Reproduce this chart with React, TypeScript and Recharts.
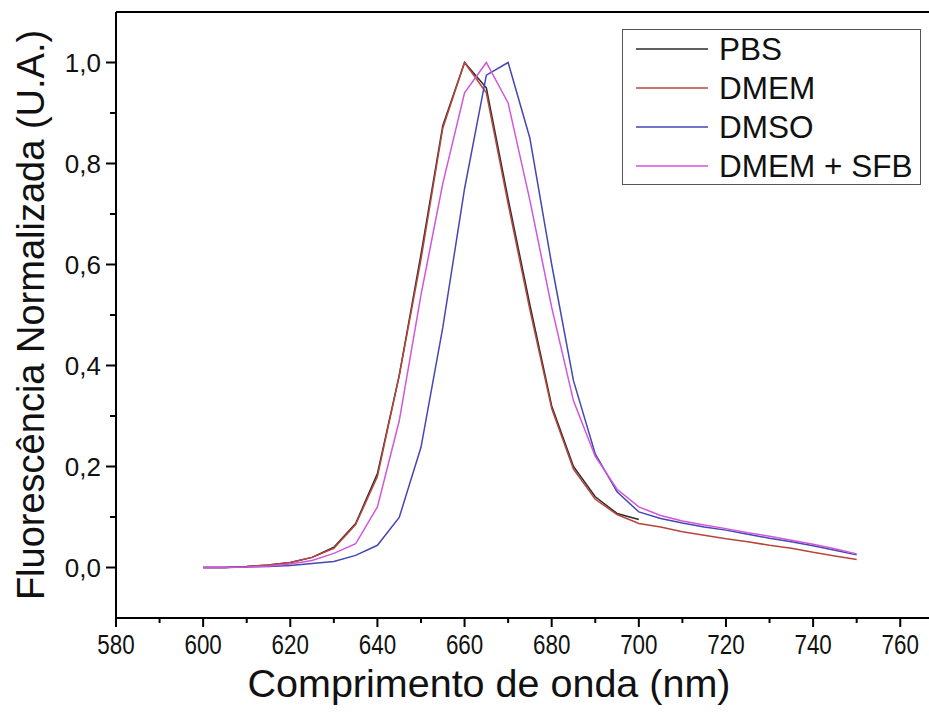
import React from 'react';
import { LineChart, Line, XAxis, YAxis, ReferenceLine } from 'recharts';

// wavelength grid (nm), sampled every 5 nm
const wavelengths = [
  600, 605, 610, 615, 620, 625, 630, 635, 640, 645, 650, 655, 660, 665, 670, 675,
  680, 685, 690, 695, 700, 705, 710, 715, 720, 725, 730, 735, 740, 745, 750,
];

// PBS was only measured up to 700 nm
const pbs = [
  0, 0, 0.002, 0.005, 0.01, 0.02, 0.04, 0.087, 0.186, 0.38, 0.62, 0.875, 1.0, 0.95, 0.73, 0.52,
  0.32, 0.2, 0.14, 0.107, 0.095,
];
const dmem = [
  0, 0, 0.002, 0.005, 0.01, 0.02, 0.038, 0.085, 0.18, 0.38, 0.61, 0.87, 1.0, 0.94, 0.72, 0.51,
  0.315, 0.195, 0.135, 0.105, 0.087, 0.08, 0.071, 0.064, 0.057, 0.051, 0.044, 0.038, 0.03, 0.023, 0.016,
];
const dmso = [
  0, 0, 0.001, 0.002, 0.004, 0.008, 0.012, 0.024, 0.044, 0.099, 0.238, 0.475, 0.75, 0.975, 1.0, 0.85,
  0.6, 0.37, 0.225, 0.15, 0.11, 0.097, 0.088, 0.08, 0.074, 0.066, 0.058, 0.051, 0.043, 0.034, 0.025,
];
const dmemSfb = [
  0, 0, 0.001, 0.003, 0.007, 0.014, 0.028, 0.047, 0.12, 0.29, 0.54, 0.76, 0.94, 1.0, 0.92, 0.727,
  0.515, 0.33, 0.22, 0.155, 0.12, 0.103, 0.092, 0.084, 0.077, 0.069, 0.062, 0.054, 0.046, 0.037, 0.027,
];

const xTicks = [580, 590, 600, 610, 620, 630, 640, 650, 660, 670, 680, 690, 700, 710, 720, 730, 740, 750, 760];
const yTicks = [0, 0.1, 0.2, 0.3, 0.4, 0.5, 0.6, 0.7, 0.8, 0.9, 1.0];

const series = [
  { key: 'pbs', name: 'PBS', color: '#2b2b2b' },
  { key: 'dmem', name: 'DMEM', color: '#b8453a' },
  { key: 'dmso', name: 'DMSO', color: '#4646b4' },
  { key: 'dmemSfb', name: 'DMEM + SFB', color: '#d256dc' },
];

const data = wavelengths.map((w, i) => ({
  w,
  pbs: pbs[i],
  dmem: dmem[i],
  dmso: dmso[i],
  dmemSfb: dmemSfb[i],
}));

const FONT = '"Liberation Sans", Arial, sans-serif';

function XTick(props: any) {
  const { x, y, payload } = props;
  const major = payload.value % 20 === 0;
  return (
    <g>
      <line x1={x} x2={x} y1={y} y2={y + (major ? 9 : 5)} stroke="#000" strokeWidth={2} />
      {major && (
        // the original tick labels are a bit condensed
        <text
          transform={`translate(${x},${y + 36}) scale(0.8,1)`}
          textAnchor="middle"
          fontFamily={FONT}
          fontSize={28}
          fill="#111"
        >
          {payload.value}
        </text>
      )}
    </g>
  );
}

function YTick(props: any) {
  const { x, y, payload } = props;
  const v = payload.value;
  const major = Math.round(v * 10) % 2 === 0;
  return (
    <g>
      <line x1={x - (major ? 10 : 6)} x2={x} y1={y} y2={y} stroke="#000" strokeWidth={2} />
      {major && (
        <text
          x={x - 15}
          y={y + 9}
          textAnchor="end"
          fontFamily={FONT}
          fontSize={26}
          fill="#111"
        >
          {v.toFixed(1).replace('.', ',')}
        </text>
      )}
    </g>
  );
}

function Legendbox() {
  return (
    <div
      style={{
        position: 'absolute',
        left: 622,
        top: 29,
        width: 299,
        height: 156,
        border: '1.5px solid #555',
        background: '#fff',
        boxSizing: 'border-box',
        fontFamily: FONT,
      }}
    >
      {series.map((s, i) => (
        <div
          key={s.key}
          style={{
            position: 'absolute',
            left: 13,
            top: 2 + i * 39,
            height: 34,
            display: 'flex',
            alignItems: 'center',
          }}
        >
          <svg width={72} height={4} style={{ marginRight: 11 }}>
            <line x1={0} x2={72} y1={2} y2={2} stroke={s.color} strokeWidth={1.5} />
          </svg>
          <span style={{ fontSize: 31.5, color: '#111', whiteSpace: 'nowrap' }}>{s.name}</span>
        </div>
      ))}
    </div>
  );
}

export default function App() {
  return (
    <div style={{ position: 'absolute', left: 0, top: 0, width: 929, height: 713, background: '#fff' }}>
      <LineChart width={929} height={713} data={data} margin={{ top: 12, right: 0, bottom: 0, left: 0 }}>
        <XAxis
          type="number"
          dataKey="w"
          domain={[580, 766.6]}
          ticks={xTicks}
          interval={0}
          allowDataOverflow
          height={95}
          tickLine={false}
          tickSize={0}
          tickMargin={0}
          tick={<XTick />}
          axisLine={{ stroke: '#000', strokeWidth: 2 }}
          label={{
            content: () => (
              <text x={489} y={697} textAnchor="middle" fontFamily={FONT} fontSize={39.5} fill="#111">
                Comprimento de onda (nm)
              </text>
            ),
          }}
        />
        <YAxis
          type="number"
          domain={[-0.1, 1.1]}
          ticks={yTicks}
          interval={0}
          allowDataOverflow
          width={116}
          tickLine={false}
          tickSize={0}
          tickMargin={0}
          tick={<YTick />}
          axisLine={{ stroke: '#000', strokeWidth: 2 }}
          label={{
            content: () => (
              <text
                x={44}
                y={315}
                transform="rotate(-90 44 315)"
                textAnchor="middle"
                fontFamily={FONT}
                fontSize={38}
                fill="#111"
              >
                Fluorescência Normalizada (U.A.)
              </text>
            ),
          }}
        />
        <ReferenceLine y={1.1} stroke="#000" strokeWidth={2} />
        {series.map((s) => (
          <Line
            key={s.key}
            type="linear"
            dataKey={s.key}
            name={s.name}
            stroke={s.color}
            strokeWidth={1.5}
            dot={false}
            isAnimationActive={false}
          />
        ))}
      </LineChart>
      <Legendbox />
    </div>
  );
}
